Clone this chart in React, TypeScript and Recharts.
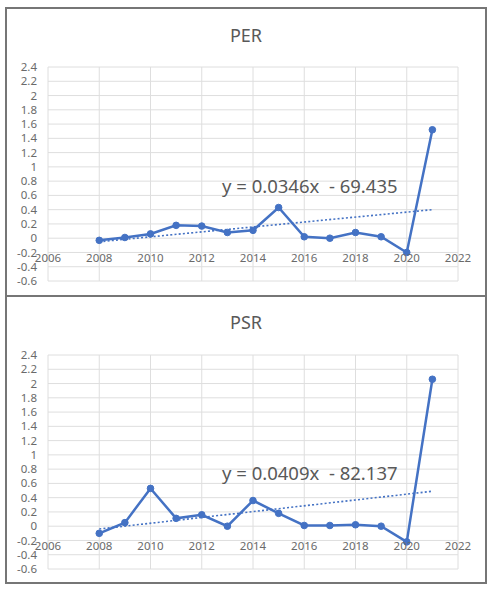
import { CartesianGrid, Line, LineChart, XAxis, YAxis } from 'recharts'

const YEARS = [2008, 2009, 2010, 2011, 2012, 2013, 2014, 2015, 2016, 2017, 2018, 2019, 2020, 2021]
const PER_VALUES = [-0.03, 0.01, 0.06, 0.18, 0.17, 0.08, 0.11, 0.43, 0.02, 0.0, 0.08, 0.02, -0.2, 1.52]
const PSR_VALUES = [-0.1, 0.05, 0.53, 0.11, 0.16, 0.0, 0.36, 0.18, 0.01, 0.01, 0.02, 0.0, -0.22, 2.06]

// trend line end points (2008, 2021)
const TREND_YEARS = [2008, 2021]
const PER_TREND = [-0.05, 0.4]
const PSR_TREND = [-0.04, 0.49]

const X_TICKS = [2006, 2008, 2010, 2012, 2014, 2016, 2018, 2020, 2022]
const Y_TICKS = [-0.6, -0.4, -0.2, 0, 0.2, 0.4, 0.6, 0.8, 1, 1.2, 1.4, 1.6, 1.8, 2, 2.2, 2.4]

const BLUE = '#4472c4'
const GRID = '#dedede'
const TEXT = '#6a6a6a'
const FONT = '"Noto Sans", "Noto Sans CJK KR", sans-serif'

const Y_MIN = -0.6
const Y_MAX = 2.4
const PLOT_H = 214

function Panel({
  title,
  values,
  trend,
  equation,
  top,
  plotTop,
  titleTop,
  eqTop,
}: {
  title: string
  values: number[]
  trend: number[]
  equation: string
  top: number
  plotTop: number
  titleTop: number
  eqTop: number
}) {
  const data = YEARS.map((year, i) => ({ year, value: values[i] }))
  const trendData = TREND_YEARS.map((year, i) => ({ year, trend: trend[i] }))
  const height = 290
  const xAxisHeight = height - plotTop - PLOT_H
  const zeroY = plotTop + ((Y_MAX - 0) / (Y_MAX - Y_MIN)) * PLOT_H

  const XTick = (props: any) => (
    <text
      x={props.x}
      y={zeroY + 19}
      textAnchor="middle"
      dominantBaseline="central"
      fill={TEXT}
      fontSize={11.5}
      fontFamily={FONT}
    >
      {props.payload.value}
    </text>
  )

  return (
    <div style={{ position: 'absolute', left: 0, top, width: 492, height }}>
      <div
        style={{
          position: 'absolute',
          left: 0,
          width: 492,
          top: titleTop,
          textAlign: 'center',
          fontFamily: FONT,
          fontSize: 18,
          color: '#595959',
          lineHeight: '24px',
        }}
      >
        {title}
      </div>
      <LineChart
        width={492}
        height={height}
        data={data}
        margin={{ top: plotTop, right: 34, bottom: 0, left: 8 }}
        style={{ position: 'absolute', left: 0, top: 0 }}
      >
        <CartesianGrid stroke={GRID} strokeWidth={1} />
        <XAxis
          dataKey="year"
          type="number"
          domain={[2006, 2022]}
          ticks={X_TICKS}
          height={xAxisHeight}
          axisLine={false}
          tickLine={false}
          tick={XTick}
          interval={0}
        />
        <YAxis
          type="number"
          domain={[Y_MIN, Y_MAX]}
          ticks={Y_TICKS}
          width={40}
          axisLine={false}
          tickLine={false}
          tickMargin={5}
          interval={0}
          tick={{ fill: TEXT, fontSize: 11.5, fontFamily: FONT }}
        />
        <Line
          data={trendData}
          dataKey="trend"
          stroke={BLUE}
          strokeWidth={1.6}
          strokeDasharray="2 2.2"
          dot={false}
          isAnimationActive={false}
        />
        <Line
          dataKey="value"
          stroke={BLUE}
          strokeWidth={2.5}
          dot={{ r: 3.3, fill: BLUE, stroke: BLUE, strokeWidth: 1 }}
          isAnimationActive={false}
        />
      </LineChart>
      <div
        style={{
          position: 'absolute',
          left: 222,
          top: eqTop,
          fontFamily: FONT,
          fontSize: 18.5,
          color: '#595959',
          lineHeight: '24px',
          whiteSpace: 'pre',
        }}
      >
        {equation}
      </div>
    </div>
  )
}

export default function App() {
  return (
    <div style={{ position: 'absolute', left: 0, top: 0, width: 492, height: 590, background: '#fff' }}>
      <Panel
        title="PER"
        values={PER_VALUES}
        trend={PER_TREND}
        equation="y = 0.0346x  - 69.435"
        top={0}
        plotTop={67}
        titleTop={23}
        eqTop={174}
      />
      <Panel
        title="PSR"
        values={PSR_VALUES}
        trend={PSR_TREND}
        equation="y = 0.0409x  - 82.137"
        top={295}
        plotTop={60}
        titleTop={15}
        eqTop={166}
      />
      <div
        style={{
          position: 'absolute',
          left: 5,
          top: 7,
          width: 478,
          height: 573,
          border: '2px solid #767676',
          pointerEvents: 'none',
        }}
      />
      <div style={{ position: 'absolute', left: 5, top: 295, width: 482, height: 2, background: '#767676' }} />
    </div>
  )
}
